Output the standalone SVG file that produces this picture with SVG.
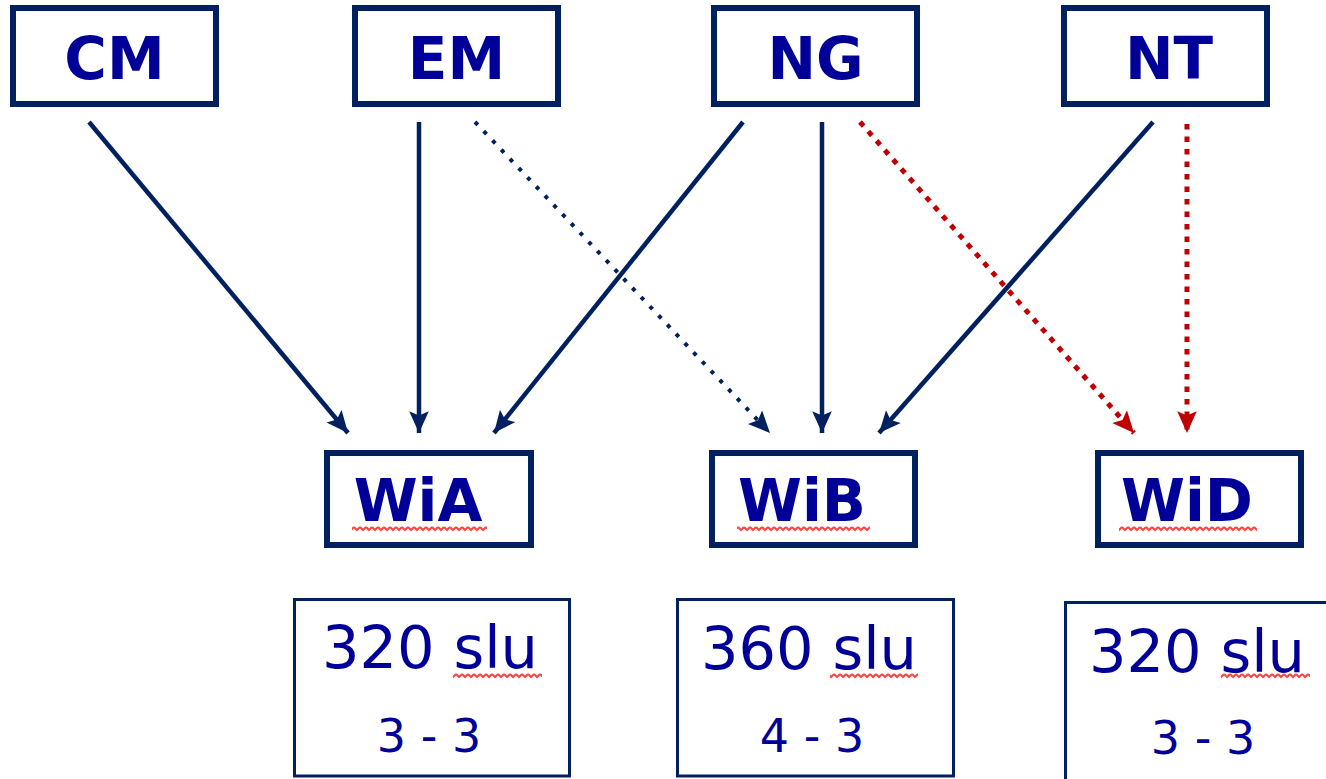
<svg xmlns="http://www.w3.org/2000/svg" width="1326" height="779" viewBox="0 0 1326 779">
<style>
.box{fill:#fff;stroke:#002060;stroke-width:6}
.vbox{fill:#fff;stroke:#002060;stroke-width:3}
.lbl{font-family:"DejaVu Sans",Verdana,sans-serif;font-weight:bold;font-size:58px;fill:#000099;text-anchor:middle}
.big{font-family:"DejaVu Sans",Verdana,sans-serif;font-size:59px;fill:#000099;text-anchor:middle}
.small{font-family:"DejaVu Sans",Verdana,sans-serif;font-size:46px;fill:#000099;text-anchor:middle}
.solid{stroke:#002060;stroke-width:4.5;fill:none;marker-end:url(#ah)}
.dotb{stroke:#002060;stroke-width:4;fill:none;stroke-dasharray:4 8.7;marker-end:url(#ah)}
.dotr{stroke:#C00000;stroke-width:5;fill:none;stroke-dasharray:5.5 7;marker-end:url(#ahr)}
.sq{fill:url(#sq)}
</style>
<defs>
<marker id="ah" markerUnits="userSpaceOnUse" markerWidth="24" markerHeight="20" refX="20" refY="9" orient="auto" viewBox="0 0 22 18">
<path d="M0,0 L20,9 L0,18 L4,9 z" fill="#002060"/>
</marker>
<marker id="ahr" markerUnits="userSpaceOnUse" markerWidth="24" markerHeight="20" refX="20" refY="9" orient="auto" viewBox="0 0 22 18">
<path d="M0,0 L20,9 L0,18 L4,9 z" fill="#C00000"/>
</marker>
<pattern id="sq" width="6" height="7" patternUnits="userSpaceOnUse">
<path d="M0,2 L3,5 L6,2" fill="none" stroke="#FF4444" stroke-width="2"/>
</pattern>
</defs>

<g id="connectors">
<line class="solid" x1="89" y1="122" x2="348" y2="433"/>
<line class="solid" x1="419" y1="122" x2="419" y2="433"/>
<line class="solid" x1="743" y1="122" x2="494" y2="433"/>
<line class="dotb" x1="475" y1="122" x2="770" y2="433"/>
<line class="solid" x1="822" y1="122" x2="822" y2="433"/>
<line class="solid" x1="1153" y1="122" x2="879" y2="433"/>
<line class="dotr" x1="860" y1="122" x2="1134" y2="433"/>
<line class="dotr" x1="1187" y1="124" x2="1187" y2="433"/>
</g>

<g id="CM">
<rect class="box" x="13" y="8" width="203" height="96"/>
<text class="lbl" x="114.5" y="79">CM</text>
</g>
<g id="EM">
<rect class="box" x="355" y="8" width="203" height="96"/>
<text class="lbl" x="456.5" y="79">EM</text>
</g>
<g id="NG">
<rect class="box" x="714" y="8" width="203" height="96"/>
<text class="lbl" x="815.5" y="79">NG</text>
</g>
<g id="NT">
<rect class="box" x="1064" y="8" width="203" height="96"/>
<text class="lbl" x="1169" y="79">NT</text>
</g>

<g id="WiA">
<rect class="box" x="327" y="453" width="204" height="92"/>
<text class="lbl" x="418" y="521">WiA</text>
<rect class="sq" x="352" y="525" width="135" height="7"/>
</g>
<g id="WiB">
<rect class="box" x="712" y="453" width="203" height="92"/>
<text class="lbl" x="802" y="521">WiB</text>
<rect class="sq" x="737" y="525" width="133" height="7"/>
</g>
<g id="WiD">
<rect class="box" x="1098" y="453" width="203" height="92"/>
<text class="lbl" x="1187" y="521">WiD</text>
<rect class="sq" x="1119" y="525" width="138" height="7"/>
</g>

<g id="valA">
<rect class="vbox" x="294.5" y="599.5" width="275" height="176.5"/>
<text class="big" x="430" y="668">320 slu</text>
<rect class="sq" x="453" y="672" width="89" height="7"/>
<text class="small" x="429" y="752">3 - 3</text>
</g>
<g id="valB">
<rect class="vbox" x="677.5" y="599.5" width="276" height="176.5"/>
<text class="big" x="809" y="669">360 slu</text>
<rect class="sq" x="830" y="672" width="88" height="7"/>
<text class="small" x="812" y="752">4 - 3</text>
</g>
<g id="valC">
<rect class="vbox" x="1065.5" y="602.5" width="300" height="200"/>
<text class="big" x="1197" y="672">320 slu</text>
<rect class="sq" x="1221" y="672" width="89" height="7"/>
<text class="small" x="1203" y="754">3 - 3</text>
</g>
</svg>
